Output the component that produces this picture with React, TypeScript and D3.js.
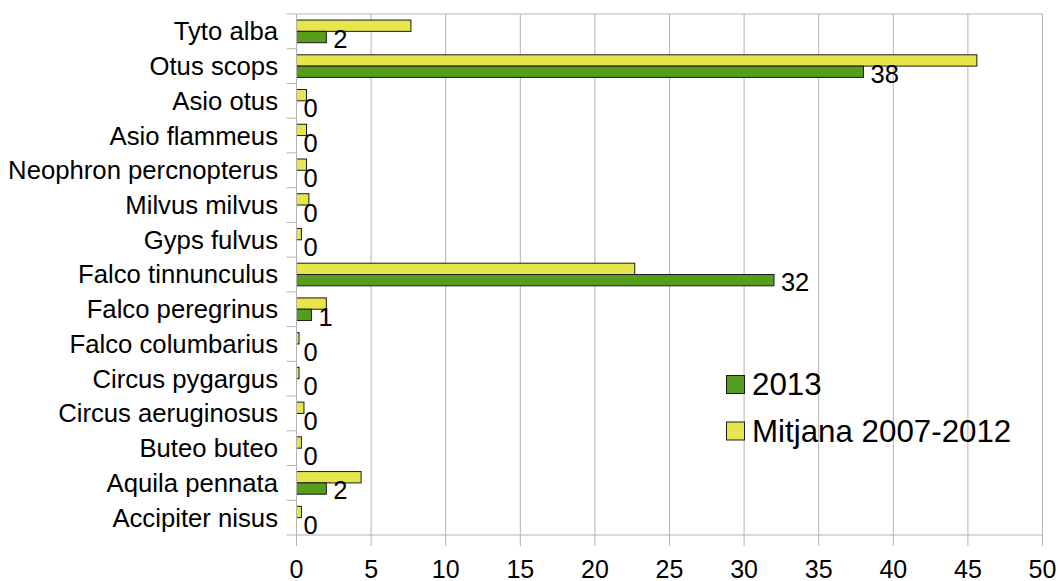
import React from "react";
import * as d3 from "d3";

const categories = [
  "Tyto alba",
  "Otus scops",
  "Asio otus",
  "Asio flammeus",
  "Neophron percnopterus",
  "Milvus milvus",
  "Gyps fulvus",
  "Falco tinnunculus",
  "Falco peregrinus",
  "Falco columbarius",
  "Circus pygargus",
  "Circus aeruginosus",
  "Buteo buteo",
  "Aquila pennata",
  "Accipiter nisus",
];
const values2013 = [2, 38, 0, 0, 0, 0, 0, 32, 1, 0, 0, 0, 0, 2, 0];
const valuesMitjana = [7.67, 45.6, 0.67, 0.67, 0.67, 0.83, 0.33, 22.67, 2, 0.17, 0.17, 0.5, 0.33, 4.33, 0.33];
const xTicks = [0, 5, 10, 15, 20, 25, 30, 35, 40, 45, 50];
const seriesNames = ["Mitjana 2007-2012", "2013"];
const legendNames = ["2013", "Mitjana 2007-2012"];

const GREEN = "#579d1c";
const YELLOW = "#e6e64c";
const GRID = "#b3b3b3";
const FONT = "'Liberation Sans', Arial, sans-serif";

export default function App() {
  const W = 1058, H = 581;
  const left = 296.5, right = 1042.5, top = 14, bottom = 535;
  const x = d3.scaleLinear().domain([0, 50]).range([left, right]);
  const y = d3.scaleBand<string>().domain(categories).range([top, bottom]).padding(0);
  const inner = d3.scaleBand<string>().domain(seriesNames).range([0, y.bandwidth()]).paddingInner(0).paddingOuter(0.535);

  return (
    <div style={{ position: "fixed", left: 0, top: 0, width: W, height: H, background: "#fff" }}>
      <svg width={W} height={H} style={{ display: "block", fontFamily: FONT }}>
        {/* grid */}
        {xTicks.map((t) => (
          <line key={"g" + t} x1={x(t)} x2={x(t)} y1={top} y2={bottom} stroke={GRID} strokeWidth={1} />
        ))}
        <line x1={left} x2={right} y1={top} y2={top} stroke={GRID} />
        <line x1={left} x2={right} y1={bottom} y2={bottom} stroke={GRID} />
        {/* x ticks */}
        {xTicks.map((t) => (
          <g key={"t" + t}>
            <line x1={x(t)} x2={x(t)} y1={bottom} y2={bottom + 11} stroke={GRID} />
            <text x={x(t)} y={bottom + 42.5} textAnchor="middle" fontSize={25} fill="#000">{t}</text>
          </g>
        ))}
        {/* y ticks */}
        {categories.map((c, i) => (
          <line key={"yt" + i} x1={left - 10} x2={left} y1={y(c)!} y2={y(c)!} stroke={GRID} />
        ))}
        <line x1={left - 10} x2={left} y1={bottom} y2={bottom} stroke={GRID} />
        {/* category labels */}
        {categories.map((c) => (
          <text key={"l" + c} x={278} y={y(c)! + y.bandwidth() / 2} dy="0.35em" textAnchor="end" fontSize={25.7} fill="#000">{c}</text>
        ))}
        {/* bars */}
        {categories.map((c, i) => {
          const yb = y(c)!;
          const ym = yb + inner("Mitjana 2007-2012")!;
          const yg = yb + inner("2013")!;
          const bh = inner.bandwidth();
          return (
            <g key={"b" + c}>
              {valuesMitjana[i] > 0 && (
                <rect x={x(0)} y={ym} width={x(valuesMitjana[i]) - x(0)} height={bh} fill={YELLOW} stroke="#1a1a1a" strokeWidth={1} />
              )}
              {values2013[i] > 0 && (
                <rect x={x(0)} y={yg} width={x(values2013[i]) - x(0)} height={bh} fill={GREEN} stroke="#1a1a1a" strokeWidth={1} />
              )}
              <text x={x(values2013[i]) + 7} y={yg + bh / 2 + 2} dy="0.35em" fontSize={25.5} fill="#000">{values2013[i]}</text>
            </g>
          );
        })}
        {/* axis lines */}
        <line x1={left} x2={left} y1={top} y2={bottom} stroke={GRID} />
        <line x1={right} x2={right} y1={top} y2={bottom} stroke={GRID} />
        {/* legend */}
        {legendNames.map((n, i) => (
          <g key={"lg" + n}>
            <rect x={726.5} y={375.5 + i * 46.5} width={18} height={18} fill={n === "2013" ? GREEN : YELLOW} stroke="#1a1a1a" strokeWidth={1} />
            <text x={752} y={384.5 + i * 46.5} dy="0.35em" fontSize={31.3} fill="#000">{n}</text>
          </g>
        ))}
      </svg>
    </div>
  );
}
